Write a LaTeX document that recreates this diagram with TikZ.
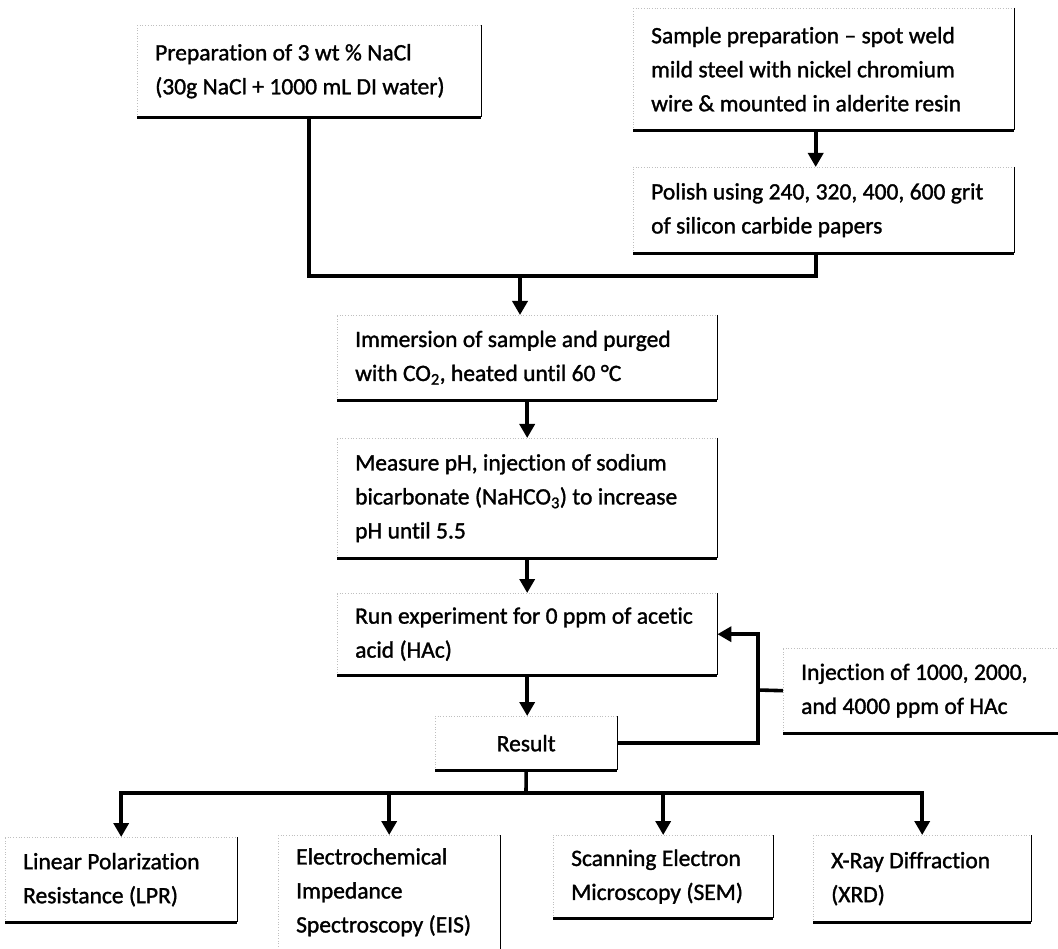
\documentclass[tikz,border=0pt]{standalone}
\usepackage{fontspec}
\setmainfont{Carlito}[Ligatures=NoCommon, FakeBold=1.3]
\usetikzlibrary{arrows.meta}
\newcommand\tightspaces{\spaceskip=5.4pt plus 1pt minus 1pt\relax}
\begin{document}
\begin{tikzpicture}[x=1pt,y=-1pt,
  txt/.style={font=\fontsize{23.5}{34}\selectfont, execute at begin node=\tightspaces},
  faintedge/.style={draw=gray!50, line width=0.7pt, dotted},
  rightedge/.style={draw=black, line width=1.6pt},
  bottomedge/.style={draw=black, line width=3.2pt},
  boxbase/.style={txt, rectangle, anchor=north west, inner xsep=18pt, inner ysep=0pt, align=left},
  tlsides/.style={append after command={
      (\tikzlastnode.south west) edge[faintedge] (\tikzlastnode.north west)
      (\tikzlastnode.north west) edge[faintedge] (\tikzlastnode.north east)}},
  rside/.style={append after command={
      (\tikzlastnode.north east) edge[rightedge] (\tikzlastnode.south east)}},
  bside/.style={append after command={
      (\tikzlastnode.south west) edge[bottomedge] (\tikzlastnode.south east)}},
  pbox/.style={boxbase, tlsides, rside, bside},
  openright/.style={boxbase, tlsides, bside},
  openbottom/.style={boxbase, tlsides, rside},
  conn/.style={draw=black, line width=3.6pt},
  arr/.style={conn, -{Triangle[width=15pt,length=14pt]}}
]
\fill[white] (0,0) rectangle (1058,949);
\useasboundingbox (0,0) rectangle (1058,949);

% top row
\node[pbox, minimum width=344pt, minimum height=92pt, text width=308pt] (n1) at (137,25)
  {Preparation of 3 wt \% NaCl\\\mbox{(30g NaCl + 1000 mL DI water)}};
\node[pbox, minimum width=381pt, minimum height=122pt, text width=345pt] (n2) at (633,8)
  {\mbox{Sample preparation – spot weld}\\\mbox{mild steel with nickel chromium}\\\mbox{wire \& mounted in alderite resin}};
\node[pbox, minimum width=381pt, minimum height=86pt, text width=345pt] (n3) at (633,167)
  {\mbox{Polish using 240, 320, 400, 600 grit}\\of silicon carbide papers};

% main column
\node[pbox, minimum width=380pt, minimum height=85pt, text width=344pt] (n4) at (337,315)
  {\mbox{Immersion of sample and purged}\\with CO\textsubscript{2}, heated until 60 °C};
\node[pbox, minimum width=380pt, minimum height=120pt, text width=344pt] (n5) at (337,438)
  {\mbox{Measure pH, injection of sodium}\\\mbox{bicarbonate (NaHCO\textsubscript{3}) to increase}\\pH until 5.5};
\node[pbox, minimum width=380pt, minimum height=82pt, text width=344pt] (n6) at (337,593)
  {\mbox{Run experiment for 0 ppm of acetic}\\acid (HAc)};
\node[pbox, align=center, minimum width=182pt, minimum height=54pt, text width=146pt] (n7) at (435,716)
  {Result};
\node[openright, minimum width=275pt, minimum height=85pt, text width=239pt] (n8) at (783,648)
  {\mbox{Injection of 1000, 2000,}\\\mbox{and 4000 ppm of HAc}};

% bottom row
\node[pbox, minimum width=232pt, minimum height=85pt, text width=196pt] (b1) at (5,837)
  {\mbox{Linear Polarization}\\\mbox{Resistance (LPR)}};
\node[openbottom, minimum width=222pt, minimum height=114pt, text width=186pt] (b2) at (278,835)
  {Electrochemical\\Impedance\\\mbox{Spectroscopy (EIS)}};
\node[pbox, minimum width=220pt, minimum height=83pt, text width=184pt] (b3) at (553,835)
  {\mbox{Scanning Electron}\\\mbox{Microscopy (SEM)}};
\node[pbox, minimum width=218pt, minimum height=87pt, text width=182pt] (b4) at (813,835)
  {\mbox{X-Ray Diffraction}\\(XRD)};

% connectors
\coordinate (m1) at (520,276);
\coordinate (fb) at (758,690);
\coordinate (bus) at (526,793);

\draw[arr] ([xshift=-8pt]n2.south) -- ([xshift=-8pt]n3.north);
\draw[conn] (n1.south) |- (m1);
\draw[conn] ([xshift=-8pt]n3.south) |- (m1);
\draw[arr] (m1) -- (m1 |- n4.north);
\draw[arr] (n4) -- (n5);
\draw[arr] (n5) -- (n6);
\draw[arr] (n6.south) -- (n6.south |- n7.north);
\draw[arr] (n7.east) -| (fb) |- (n6.east);
\draw[conn] (n8.west) -- (fb);
\draw[conn] (n7.south) -- (bus);
\draw[arr] (bus) -| (b1.north);
\draw[arr] (bus) -| (b2.north);
\draw[arr] (bus) -| (b3.north);
\draw[arr] (bus) -| (b4.north);
\end{tikzpicture}
\end{document}
